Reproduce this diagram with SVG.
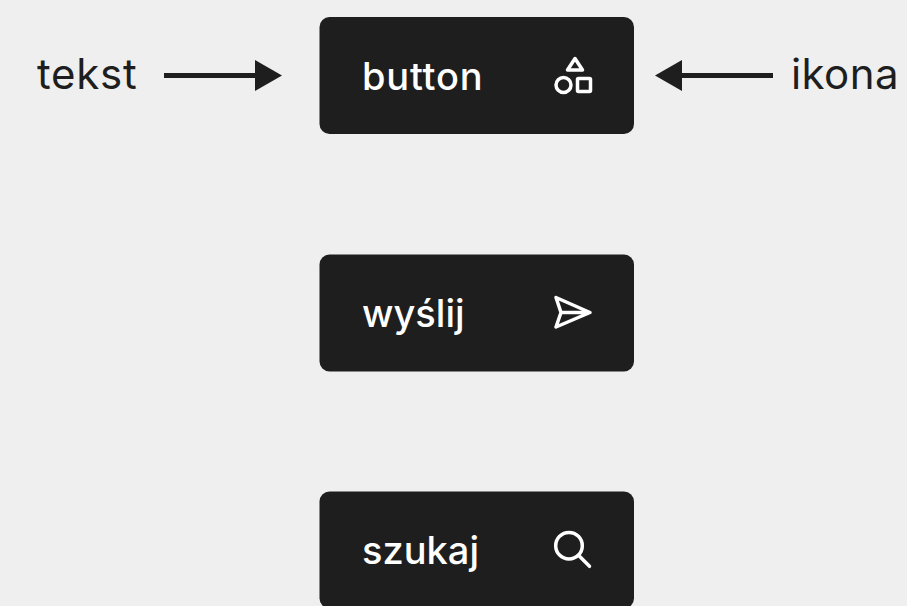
<svg xmlns="http://www.w3.org/2000/svg" width="907" height="606" viewBox="0 0 907 606">
<style>
.bg{fill:#efefef}
.btn{fill:#1e1e1e}
.t{font-family:Inter,"Liberation Sans",sans-serif}
.l{font-size:42px;fill:#1e1e1e}
.w{font-size:38px;font-weight:500;fill:#fff}
.i{fill:none;stroke:#fff;stroke-width:3.500;stroke-linecap:round;stroke-linejoin:round}
.c{fill:none;stroke:#1e1e1e;stroke-width:5}
.a{fill:#1e1e1e}
</style>
<rect class="bg" width="907" height="606"/>
<g id="connectors">
<path class="c" d="M164 75.500H256"/><path class="a" d="M255 60L282 75.500L255 91Z"/>
<path class="c" d="M773 75.500H681"/><path class="a" d="M682 60L655 75.500L682 91Z"/>
</g>
<text class="t l" x="37" y="89" letter-spacing=".75">tekst</text>
<text class="t l" x="791" y="89" letter-spacing=".4">ikona</text>
<g id="node-button"><rect class="btn" x="319.500" y="17" width="314.500" height="117" rx="10"/><text class="t w" x="362" y="89.600" letter-spacing=".8">button</text>
<path class="i" d="M575 58.500L582.500 70H567.500Z"/><circle class="i" cx="563.500" cy="85" r="7.500"/><rect class="i" x="577.500" y="78.500" width="13" height="13" rx="1"/></g>
<g id="node-wyslij"><rect class="btn" x="319.500" y="254.500" width="314.500" height="117" rx="10"/><text class="t w" x="362" y="326.600">wyślij</text>
<path class="i" d="M556 297.500L590 312.500L556 327L561 312.500ZM561 312.500H590"/></g>
<g id="node-szukaj"><rect class="btn" x="319.500" y="491.500" width="314.500" height="117" rx="10"/><text class="t w" x="362" y="563.600">szukaj</text>
<circle class="i" cx="569" cy="545.700" r="13.300"/><path class="i" d="M579 555.700L589.500 566.300"/></g>
</svg>
